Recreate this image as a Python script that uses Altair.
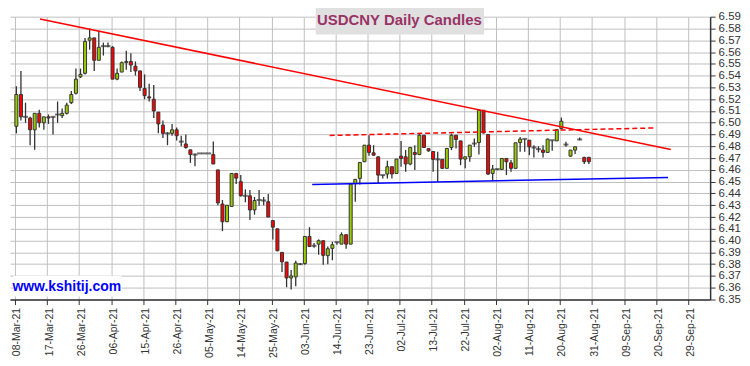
import altair as alt
import pandas as pd

# x-axis tick labels (every 7 trading days)
tick_labels = ['08-Mar-21', '17-Mar-21', '26-Mar-21', '06-Apr-21', '15-Apr-21', '26-Apr-21',
               '05-May-21', '14-May-21', '25-May-21', '03-Jun-21', '14-Jun-21', '23-Jun-21',
               '02-Jul-21', '13-Jul-21', '22-Jul-21', '02-Aug-21', '11-Aug-21', '20-Aug-21',
               '31-Aug-21', '09-Sep-21', '20-Sep-21', '29-Sep-21']
tick_days = [0, 7, 14, 21, 28, 35, 42, 49, 56, 63, 70, 77, 84, 91, 98, 105, 112, 119, 126, 133, 140, 147]
y_ticks = [6.35, 6.36, 6.37, 6.38, 6.39, 6.40, 6.41, 6.42, 6.43, 6.44, 6.45, 6.46, 6.47,
           6.48, 6.49, 6.50, 6.51, 6.52, 6.53, 6.54, 6.55, 6.56, 6.57, 6.58, 6.59]

# daily OHLC, one per trading day starting 08-Mar-21
opens = [6.497, 6.524, 6.505, 6.504, 6.494, 6.508, 6.500, 6.505, 6.505, 6.507,
         6.506, 6.508, 6.517, 6.525, 6.539, 6.542, 6.570, 6.572, 6.553, 6.565,
         6.565, 6.564, 6.537, 6.543, 6.551, 6.552, 6.548, 6.544, 6.529, 6.522,
         6.520, 6.509, 6.498, 6.491, 6.491, 6.494, 6.484, 6.482, 6.477, 6.473,
         6.474, 6.474, 6.474, 6.473, 6.460, 6.431, 6.416, 6.429, 6.457, 6.450,
         6.438, 6.438, 6.426, 6.4345, 6.434, 6.433, 6.417, 6.410, 6.390, 6.3818,
         6.3683, 6.3692, 6.380, 6.3805, 6.4035, 6.3956, 6.397, 6.3999, 6.3872, 6.3934,
         6.3987, 6.397, 6.405, 6.397, 6.4486, 6.4528, 6.4669, 6.481, 6.4745, 6.4711,
         6.4556, 6.4565, 6.4627, 6.457, 6.4717, 6.4711, 6.465, 6.4748, 6.4731, 6.4894,
         6.478, 6.4756, 6.4689, 6.4689, 6.4613, 6.479, 6.4894, 6.4846, 6.4692, 6.4711,
         6.4824, 6.4832, 6.5106, 6.490, 6.457, 6.4607, 6.4604, 6.4697, 6.466, 6.4613,
         6.4832, 6.4863, 6.4852, 6.479, 6.4776, 6.4768, 6.4748, 6.4852, 6.4846, 6.4951,
         6.4815, 6.4717, 6.4768, 6.4858, 6.4706, 6.4706]
highs = [6.531, 6.544, 6.517, 6.505, 6.508, 6.511, 6.505, 6.507, 6.505, 6.518,
         6.512, 6.517, 6.527, 6.546, 6.546, 6.572, 6.580, 6.572, 6.578, 6.568,
         6.568, 6.565, 6.546, 6.552, 6.561, 6.559, 6.552, 6.544, 6.541, 6.533,
         6.532, 6.509, 6.502, 6.492, 6.499, 6.496, 6.489, 6.490, 6.477, 6.474,
         6.474, 6.474, 6.474, 6.484, 6.460, 6.4345, 6.430, 6.457, 6.457, 6.4556,
         6.4435, 6.443, 6.437, 6.443, 6.437, 6.4395, 6.417, 6.410, 6.390, 6.3818,
         6.375, 6.383, 6.381, 6.4035, 6.4114, 6.398, 6.401, 6.3999, 6.395, 6.399,
         6.3987, 6.407, 6.405, 6.448, 6.452, 6.4663, 6.481, 6.4894, 6.481, 6.4711,
         6.4556, 6.4677, 6.4627, 6.4692, 6.4846, 6.4768, 6.479, 6.481, 6.4908, 6.4894,
         6.478, 6.4756, 6.4754, 6.4689, 6.4782, 6.4908, 6.4894, 6.4846, 6.4711, 6.481,
         6.4866, 6.5106, 6.5106, 6.490, 6.4641, 6.4607, 6.4697, 6.4697, 6.4683, 6.483,
         6.488, 6.4863, 6.4852, 6.481, 6.4801, 6.481, 6.4866, 6.4852, 6.4942, 6.5044,
         6.4838, 6.4768, 6.4796, 6.4875, 6.4711, 6.4711]
lows = [6.491, 6.502, 6.500, 6.481, 6.477, 6.496, 6.494, 6.499, 6.490, 6.500,
        6.504, 6.507, 6.516, 6.524, 6.538, 6.541, 6.562, 6.544, 6.553, 6.557,
        6.564, 6.537, 6.536, 6.543, 6.545, 6.543, 6.540, 6.527, 6.520, 6.518,
        6.504, 6.491, 6.487, 6.481, 6.489, 6.485, 6.480, 6.478, 6.466, 6.463,
        6.474, 6.474, 6.474, 6.465, 6.430, 6.408, 6.416, 6.4285, 6.448, 6.4375,
        6.4325, 6.4175, 6.422, 6.4295, 6.430, 6.420, 6.401, 6.391, 6.3734, 6.3604,
        6.3585, 6.3613, 6.3795, 6.3796, 6.3945, 6.394, 6.388, 6.3796, 6.380, 6.3833,
        6.3965, 6.397, 6.393, 6.397, 6.433, 6.4477, 6.4669, 6.472, 6.472, 6.4486,
        6.4528, 6.4528, 6.4528, 6.457, 6.4627, 6.4585, 6.464, 6.4599, 6.4725, 6.479,
        6.4754, 6.4585, 6.450, 6.4607, 6.4613, 6.4768, 6.4782, 6.464, 6.4613, 6.4669,
        6.4796, 6.4731, 6.4908, 6.4556, 6.4506, 6.4596, 6.4604, 6.4556, 6.4585, 6.4613,
        6.4754, 6.4754, 6.4725, 6.4706, 6.4748, 6.4706, 6.4748, 6.4762, 6.4846, 6.4945,
        6.4796, 6.4711, 6.4734, 6.4852, 6.4649, 6.4649]
closes = [6.524, 6.505, 6.505, 6.494, 6.508, 6.500, 6.505, 6.504, 6.505, 6.507,
          6.508, 6.515, 6.524, 6.537, 6.541, 6.569, 6.572, 6.553, 6.564, 6.565,
          6.565, 6.537, 6.542, 6.551, 6.552, 6.549, 6.544, 6.530, 6.523, 6.521,
          6.510, 6.499, 6.491, 6.491, 6.494, 6.489, 6.484, 6.479, 6.473, 6.473,
          6.474, 6.474, 6.474, 6.465, 6.432, 6.416, 6.430, 6.457, 6.453, 6.438,
          6.438, 6.426, 6.434, 6.4345, 6.434, 6.420, 6.4114, 6.3914, 6.382, 6.3683,
          6.370, 6.381, 6.380, 6.4035, 6.395, 6.3956, 6.3999, 6.3875, 6.3931, 6.3965,
          6.3987, 6.405, 6.397, 6.448, 6.452, 6.4663, 6.481, 6.4748, 6.4725, 6.4556,
          6.4556, 6.4627, 6.4565, 6.4692, 6.4697, 6.465, 6.479, 6.4731, 6.4894, 6.479,
          6.4762, 6.4689, 6.4689, 6.4613, 6.4782, 6.4894, 6.4858, 6.4692, 6.4711, 6.481,
          6.4824, 6.5106, 6.4914, 6.4565, 6.4607, 6.4607, 6.4697, 6.4669, 6.4613, 6.483,
          6.4861, 6.4863, 6.4796, 6.479, 6.4776, 6.4748, 6.4861, 6.4852, 6.4942, 6.5013,
          6.4815, 6.4768, 6.4796, 6.4858, 6.4669, 6.4669]

# drawn trend lines (day index, price)
trend_k = [5.47, 143.2]
trend_p = [6.5881, 6.4773]
resist_k = [68.7, 139.6]
resist_p = [6.4892, 6.4956]
support_k = [64.9, 142.6]
support_p = [6.4477, 6.4536]

df = pd.DataFrame({"k": list(range(len(opens))), "open": opens, "high": highs,
                   "low": lows, "close": closes})
df["dir"] = ["up" if c > o else "down" for o, c in zip(opens, closes)]
df["doji"] = [abs(c - o) < 0.0008 for o, c in zip(opens, closes)]
df_body = df[~df["doji"]]
df_doji = df[df["doji"]]

FONT = "Liberation Sans"
x_scale = alt.Scale(domain=[0, 150.7], nice=False, zero=False)
y_scale = alt.Scale(domain=[6.35, 6.59], nice=False, zero=False)

label_expr = "[" + ",".join("'%s'" % s for s in tick_labels) + "][round(datum.value/7)]"
x_axis = alt.Axis(orient="bottom", values=tick_days, labelExpr=label_expr, labelAngle=270,
                  labelAlign="right", labelBaseline="middle", labelFontSize=10.5,
                  labelColor="#333333", labelFont=FONT, labelOffset=2, labelPadding=3,
                  tickSize=5, tickColor="#333333", domainColor="#333333", domainWidth=1.5,
                  grid=True, gridColor="#c0c0c0", gridWidth=1, title=None, labelOverlap=False)
y_axis = alt.Axis(orient="right", values=y_ticks, format=".2f", labelFontSize=11.5,
                  labelColor="#333333", labelFont=FONT, labelPadding=3, tickSize=5,
                  tickColor="#333333", domainColor="#333333", domainWidth=1.5,
                  grid=True, gridColor="#c0c0c0", gridWidth=1, title=None, labelOverlap=False)


def X(field):
    return alt.X(field, scale=x_scale, axis=x_axis, title=None)


def Y(field):
    return alt.Y(field, scale=y_scale, axis=y_axis, title=None)


OFF = 1.4

wicks = alt.Chart(df).mark_rule(color="#333333", strokeWidth=1.3, xOffset=OFF).encode(
    x=X("k:Q"), y=Y("low:Q"), y2="high:Q",
)
bodies = alt.Chart(df_body).mark_bar(width=3, stroke="#333333", strokeWidth=1, xOffset=OFF).encode(
    x=X("k:Q"), y=Y("open:Q"), y2="close:Q",
    color=alt.Color("dir:N", scale=alt.Scale(domain=["up", "down"], range=["#99cc00", "#ff0000"]),
                    legend=None),
)
dojis = alt.Chart(df_doji).mark_tick(orient="horizontal", size=5, thickness=2, color="#333333",
                                     xOffset=OFF).encode(
    x=X("k:Q"), y=Y("open:Q"),
)


def line_layer(ks, ps, color, dash=None):
    d = pd.DataFrame({"k": ks, "p": ps})
    kw = dict(color=color, strokeWidth=1.5)
    if dash:
        kw["strokeDash"] = dash
    return alt.Chart(d).mark_line(**kw).encode(x=X("k:Q"), y=Y("p:Q"))


trend = line_layer(trend_k, trend_p, "#ff0000")
resist = line_layer(resist_k, resist_p, "#ff0000", [5, 3])
support = line_layer(support_k, support_p, "#0000ff")

one = alt.Data(values=[{"a": 1}])
title_box = alt.Chart(one).mark_rect(fill="#e0e0e0").encode(
    x=alt.value(307), x2=alt.value(476), y=alt.value(-11), y2=alt.value(18))
title_text = alt.Chart(one).mark_text(text="USDCNY Daily Candles", font=FONT, fontSize=15,
                                      fontWeight="bold", color="#993366", align="center",
                                      baseline="middle").encode(
    x=alt.value(391), y=alt.value(3))
wm_box = alt.Chart(one).mark_rect(fill="white").encode(
    x=alt.value(3), x2=alt.value(112), y=alt.value(260), y2=alt.value(281))
wm_text = alt.Chart(one).mark_text(text="www.kshitij.com", font=FONT, fontSize=14,
                                   fontWeight="bold", color="#0000ff", align="center",
                                   baseline="middle").encode(
    x=alt.value(57), y=alt.value(271))

chart = alt.layer(wicks, bodies, dojis, trend, resist, support,
                  title_box, title_text, wm_box, wm_text).properties(
    width=703, height=284,
    padding={"left": 2, "top": 8, "right": 32, "bottom": 60},
    autosize=alt.AutoSizeParams(type="none"),
).configure(font=FONT).configure_view(strokeWidth=0)

chart.save("out.html", embed_options={"renderer": "svg", "actions": False})
